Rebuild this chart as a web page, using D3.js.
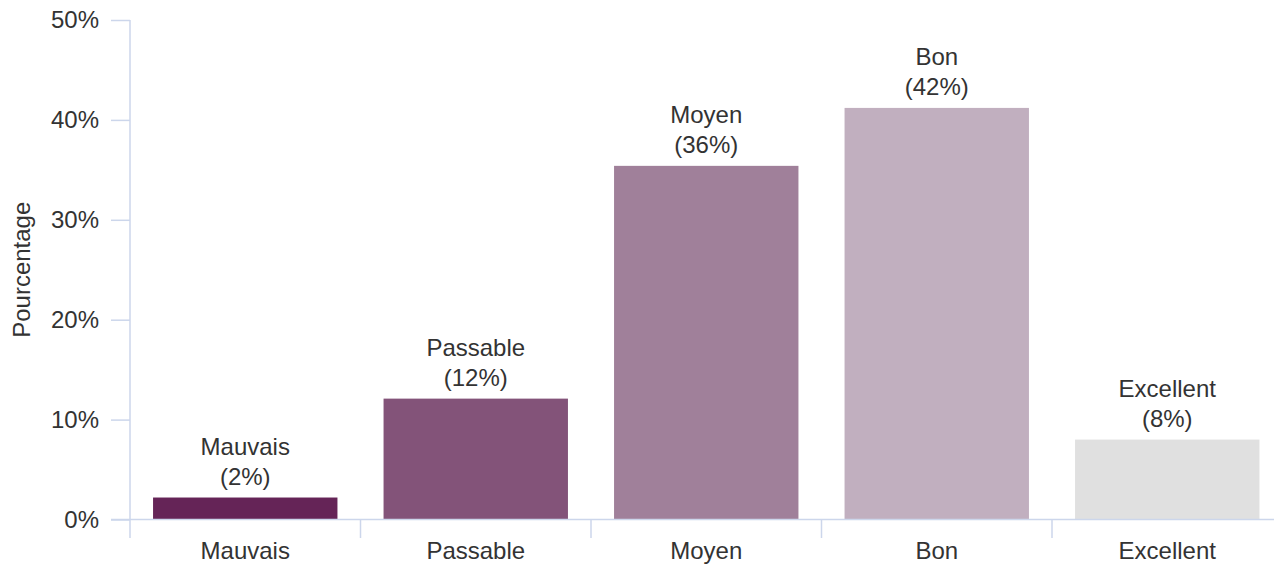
<!DOCTYPE html>
<html>
<head>
<meta charset="utf-8">
<script src="https://cdn.jsdelivr.net/npm/d3@7"></script>
<style>
  html, body { margin: 0; padding: 0; background: #ffffff; }
  svg { display: block; font-family: "Liberation Sans", Arial, sans-serif; }
</style>
</head>
<body>
<svg id="chart" width="1274" height="564"></svg>
<script>
const categories = ["Mauvais", "Passable", "Moyen", "Bon", "Excellent"];
const values = [2.2, 12.1, 35.4, 41.2, 8.0];
const valueLabels = ["2%", "12%", "36%", "42%", "8%"];
const colors = ["#652457", "#835379", "#a0809a", "#c1afbf", "#e0e0e0"];
const yTicks = [0, 10, 20, 30, 40, 50];
const yTitle = "Pourcentage";

(function () {
const svg = d3.select("#chart");
const plotLeft = 130, plotRight = 130 + 5 * 230.5, plotTop = 20, plotBottom = 519.5;
const axisColor = "#ccd6eb", textColor = "#333333";

const x = d3.scaleBand().domain(categories).range([plotLeft, plotRight]).paddingInner(0).paddingOuter(0);
const y = d3.scaleLinear().domain([0, 50]).range([plotBottom, plotTop]);
const step = x.step();

// bars
svg.append("g").selectAll("rect").data(categories).join("rect")
  .attr("x", (d) => x(d) + step * 0.1)
  .attr("width", step * 0.8)
  .attr("y", (d, i) => y(values[i]))
  .attr("height", (d, i) => y(0) - y(values[i]))
  .attr("fill", (d, i) => colors[i]);

// y axis
const yAxis = svg.append("g").attr("transform", `translate(${plotLeft},0)`)
  .call(d3.axisLeft(y).tickValues(yTicks).tickFormat(d => d + "%").tickSize(19).tickPadding(12));
yAxis.select(".domain").remove();
yAxis.selectAll(".tick line").attr("stroke", axisColor).attr("stroke-width", 1.5);
yAxis.selectAll(".tick text").attr("fill", textColor).style("font-size", "24px")
  .style("font-family", "'Liberation Sans', Arial, sans-serif");
svg.append("line").attr("x1", plotLeft).attr("x2", plotLeft).attr("y1", plotTop).attr("y2", 538)
  .attr("stroke", axisColor).attr("stroke-width", 1.5);

// x axis line
svg.append("line").attr("x1", 111).attr("x2", 1274).attr("y1", plotBottom).attr("y2", plotBottom)
  .attr("stroke", axisColor).attr("stroke-width", 1.5);

// x category boundary ticks
svg.append("g").selectAll("line").data(categories.slice(1)).join("line")
  .attr("x1", d => x(d)).attr("x2", d => x(d))
  .attr("y1", plotBottom).attr("y2", 538)
  .attr("stroke", axisColor).attr("stroke-width", 1.5);

// x labels
svg.append("g").selectAll("text").data(categories).join("text")
  .attr("x", d => x(d) + step / 2)
  .attr("y", 559)
  .attr("text-anchor", "middle")
  .attr("fill", textColor)
  .style("font-size", "24px")
  .text(d => d);

// data labels
const dl = svg.append("g").selectAll("text").data(categories).join("text")
  .attr("text-anchor", "middle")
  .attr("fill", textColor)
  .style("font-size", "24px");
dl.append("tspan")
  .attr("x", d => x(d) + step / 2)
  .attr("y", (d, i) => y(values[i]) - 43)
  .text(d => d);
dl.append("tspan")
  .attr("x", d => x(d) + step / 2)
  .attr("y", (d, i) => y(values[i]) - 13)
  .text((d, i) => "(" + valueLabels[i] + ")");

// y title
svg.append("text")
  .attr("transform", `translate(30,${(plotTop + plotBottom) / 2}) rotate(-90)`)
  .attr("text-anchor", "middle")
  .attr("fill", textColor)
  .style("font-size", "24px")
  .text(yTitle);
})();
</script>
</body>
</html>
